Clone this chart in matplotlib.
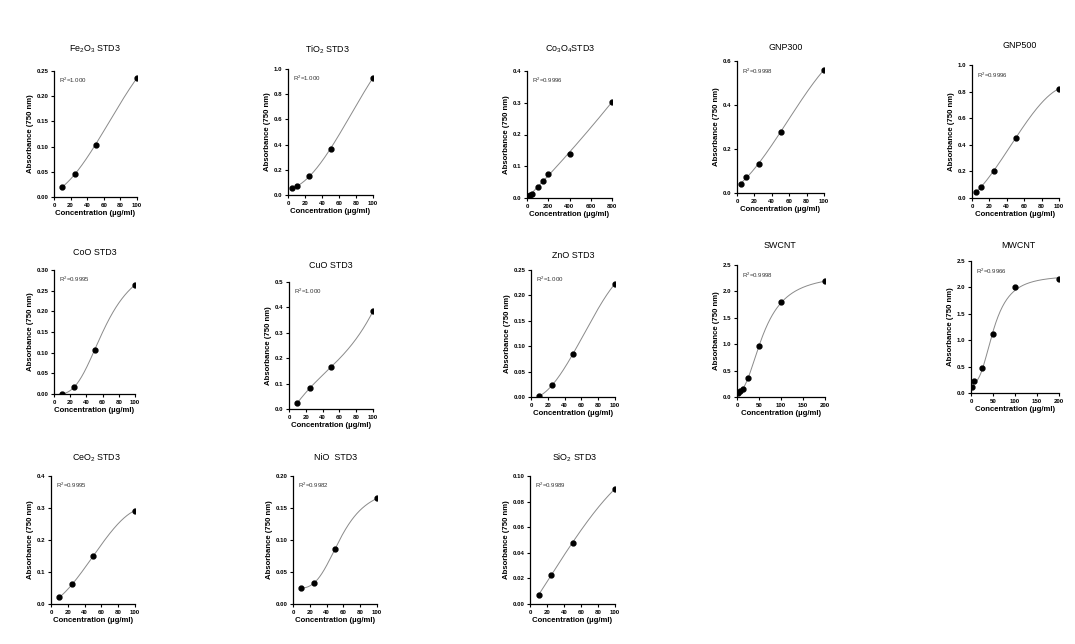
import numpy as np
import matplotlib
matplotlib.use("Agg")
import matplotlib.pyplot as plt

plt.rcParams["font.family"] = ["Liberation Sans", "DejaVu Sans"]
plt.rcParams["mathtext.default"] = "regular"

W, H = 1075, 644

# --- data ---
fe2o3_x = [10, 25, 50, 100]
fe2o3_y = [0.020, 0.045, 0.104, 0.236]
tio2_x = [5, 10, 25, 50, 100]
tio2_y = [0.055, 0.068, 0.147, 0.368, 0.930]
co3o4_x = [12.5, 25, 50, 100, 150, 200, 400, 800]
co3o4_y = [0.005, 0.008, 0.014, 0.034, 0.053, 0.077, 0.140, 0.303]
gnp300_x = [5, 10, 25, 50, 100]
gnp300_y = [0.041, 0.074, 0.131, 0.278, 0.560]
gnp500_x = [5, 10, 25, 50, 100]
gnp500_y = [0.045, 0.080, 0.205, 0.449, 0.822]
coo_x = [10, 25, 50, 100]
coo_y = [0.000, 0.017, 0.106, 0.264]
cuo_x = [10, 25, 50, 100]
cuo_y = [0.024, 0.083, 0.165, 0.385]
zno_x = [10, 25, 50, 100]
zno_y = [0.002, 0.023, 0.085, 0.223]
swcnt_x = [3.125, 6.25, 12.5, 25, 50, 100, 200]
swcnt_y = [0.076, 0.107, 0.158, 0.360, 0.960, 1.790, 2.190]
mwcnt_x = [3.125, 6.25, 25, 50, 100, 200]
mwcnt_y = [0.120, 0.230, 0.480, 1.120, 2.000, 2.150]
ceo2_x = [10, 25, 50, 100]
ceo2_y = [0.021, 0.061, 0.149, 0.292]
nio_x = [10, 25, 50, 100]
nio_y = [0.0245, 0.0328, 0.086, 0.165]
sio2_x = [10, 25, 50, 100]
sio2_y = [0.007, 0.0226, 0.048, 0.090]

titles = [r"Fe$_2$O$_3$ STD3", r"TiO$_2$ STD3", r"Co$_3$O$_4$STD3", "GNP300", "GNP500",
          "CoO STD3", "CuO STD3", "ZnO STD3", "SWCNT", "MWCNT",
          r"CeO$_2$ STD3", "NiO  STD3", r"SiO$_2$ STD3"]
r2_labels = ["1.000", "1.000", "0.9996", "0.9998", "0.9996",
             "0.9995", "1.000", "1.000", "0.9998", "0.9966",
             "0.9995", "0.9982", "0.9989"]
xs = [fe2o3_x, tio2_x, co3o4_x, gnp300_x, gnp500_x, coo_x, cuo_x, zno_x,
      swcnt_x, mwcnt_x, ceo2_x, nio_x, sio2_x]
ys = [fe2o3_y, tio2_y, co3o4_y, gnp300_y, gnp500_y, coo_y, cuo_y, zno_y,
      swcnt_y, mwcnt_y, ceo2_y, nio_y, sio2_y]
x_max = [100, 100, 800, 100, 100, 100, 100, 100, 200, 200, 100, 100, 100]
x_step = [20, 20, 200, 20, 20, 20, 20, 20, 50, 50, 20, 20, 20]
y_max = [0.25, 1.0, 0.4, 0.6, 1.0, 0.30, 0.5, 0.25, 2.5, 2.5, 0.4, 0.20, 0.10]
y_step = [0.05, 0.2, 0.1, 0.2, 0.2, 0.05, 0.1, 0.05, 0.5, 0.5, 0.1, 0.05, 0.02]
y_fmt = ["%.2f", "%.1f", "%.1f", "%.1f", "%.1f", "%.2f", "%.1f", "%.2f",
         "%.1f", "%.1f", "%.1f", "%.2f", "%.2f"]
# fit used for the grey curve: polynomial degree, or 0 for a 4-parameter logistic
fit_deg = [3, 3, 2, 3, 3, 0, 3, 3, 0, 0, 3, 0, 3]

# axes boxes in pixels: left, right, top, bottom, title centre x, title centre y
boxes = [
    (54, 137, 71, 197, 95, 49),
    (288, 373, 69, 195, 327, 50),
    (527, 612, 71, 198, 570, 49),
    (737, 824, 61, 193, 786, 47),
    (972, 1059, 65, 198, 1020, 45),
    (54, 135, 270, 394, 95, 253),
    (289, 373, 282, 409, 331, 265),
    (531, 615, 270, 397, 573, 255),
    (737, 825, 265, 397, 780, 245),
    (971, 1059, 261, 393, 1018, 246),
    (51, 135, 476, 604, 96, 458),
    (293, 377, 476, 604, 336, 458),
    (530, 615, 476, 604, 575, 458),
]


def logistic(p, x):
    bottom, top, logc, h = p
    return bottom + (top - bottom) / (1 + np.exp(h * (logc - np.log(x))))


def fit_4pl(x, y):
    # small Levenberg-Marquardt, no scipy here
    p = np.array([y.min(), y.max() * 1.05, np.log(np.median(x)), 2.0])
    lam = 1e-2
    for _ in range(300):
        r = y - logistic(p, x)
        J = np.empty((len(x), 4))
        for i in range(4):
            dp = np.zeros(4)
            dp[i] = 1e-6 * max(1.0, abs(p[i]))
            J[:, i] = (logistic(p + dp, x) - logistic(p, x)) / dp[i]
        A = J.T @ J
        step = np.linalg.solve(A + lam * np.diag(np.diag(A) + 1e-12), J.T @ r)
        new = p + step
        if np.sum((y - logistic(new, x)) ** 2) < np.sum(r ** 2):
            p, lam = new, lam * 0.5
        else:
            lam *= 4
    return p


fig = plt.figure(figsize=(W / 100, H / 100), dpi=100)

for i in range(len(titles)):
    l, r, t, b, tx, ty = boxes[i]
    ax = fig.add_axes([l / W, 1 - b / H, (r - l) / W, (b - t) / H])
    x = np.asarray(xs[i], float)
    y = np.asarray(ys[i], float)
    xx = np.linspace(x.min(), x.max(), 200)
    if fit_deg[i] == 0:
        yy = logistic(fit_4pl(x, y), xx)
    else:
        yy = np.polyval(np.polyfit(x, y, fit_deg[i]), xx)
    ax.plot(xx, yy, color="#8a8a8a", lw=0.7, zorder=2)
    ax.plot(x, y, "o", color="black", ms=3.5, zorder=3)

    ax.set_xlim(0, x_max[i])
    ax.set_ylim(0, y_max[i])
    ax.set_xticks(np.arange(0, x_max[i] + 1e-9, x_step[i]))
    yt = np.arange(0, y_max[i] + 1e-9, y_step[i])
    ax.set_yticks(yt)
    ax.set_yticklabels([y_fmt[i] % v for v in yt])
    for s in ("top", "right"):
        ax.spines[s].set_visible(False)
    for s in ("left", "bottom"):
        ax.spines[s].set_linewidth(0.9)
    ax.tick_params(direction="out", length=2.5, width=0.8, pad=1.5, labelsize=4.4)
    for lab in ax.get_xticklabels() + ax.get_yticklabels():
        lab.set_fontweight("bold")
    ax.set_xlabel("Concentration (µg/ml)", fontsize=5.6, fontweight="bold", labelpad=1.5)
    ax.set_ylabel("Absorbance (750 nm)", fontsize=5.6, fontweight="bold", labelpad=2)
    ax.text(0.06, 0.96, "R$^2$=" + r2_labels[i], transform=ax.transAxes,
            fontsize=4.4, va="top", ha="left", color="#333333")
    fig.text(tx / W, 1 - ty / H, titles[i], fontsize=6.4, ha="center", va="center")

fig.savefig("out.png", dpi=100)
